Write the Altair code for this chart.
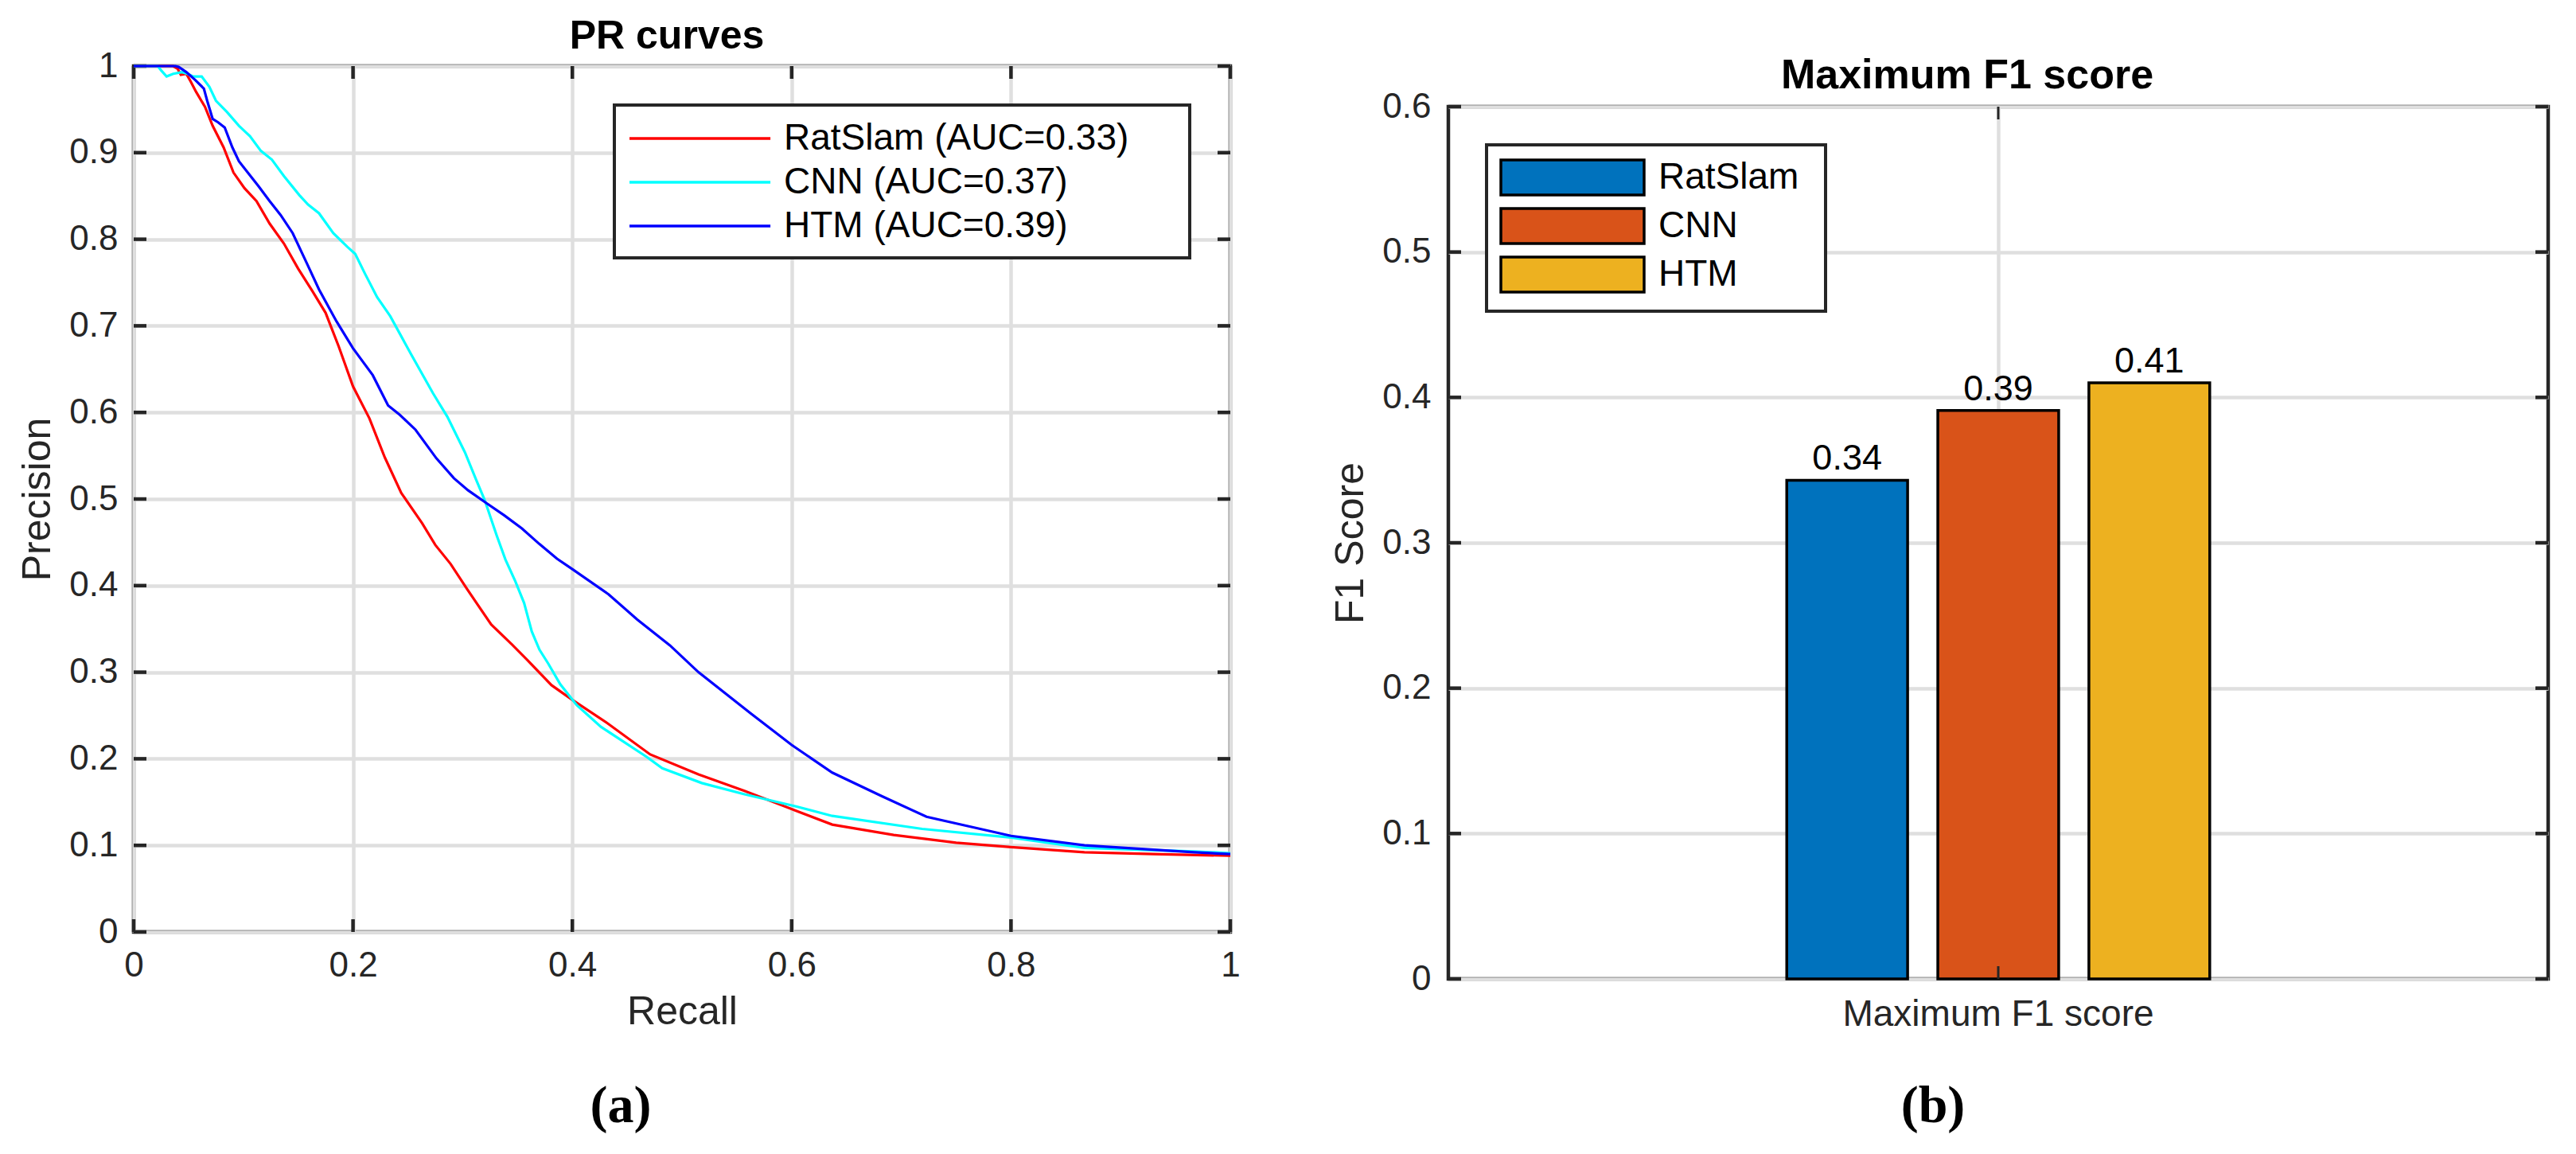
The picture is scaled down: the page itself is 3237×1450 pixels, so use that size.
import altair as alt
import pandas as pd

# ---------------- data ----------------
METHODS = ["RatSlam", "CNN", "HTM"]
AUC = [0.33, 0.37, 0.39]
LINE_COLORS = ["#ff0000", "#00ffff", "#0000ff"]
BAR_COLORS = ["#0072bd", "#d95319", "#edb120"]

RATSLAM_RECALL = [0.0, 0.036, 0.040, 0.043, 0.048, 0.052, 0.057, 0.065, 0.072, 0.082,
                  0.091, 0.101, 0.112, 0.124, 0.137, 0.150, 0.163, 0.175, 0.187, 0.200,
                  0.215, 0.229, 0.244, 0.263, 0.275, 0.289, 0.304, 0.326, 0.345, 0.359,
                  0.381, 0.400, 0.432, 0.471, 0.515, 0.557, 0.604, 0.637, 0.693, 0.750,
                  0.800, 0.867, 0.930, 1.000]
RATSLAM_PREC = [1.0, 1.0, 0.997, 0.990, 0.991, 0.982, 0.970, 0.953, 0.931, 0.906,
                0.877, 0.859, 0.844, 0.818, 0.795, 0.766, 0.740, 0.715, 0.676, 0.630,
                0.593, 0.548, 0.507, 0.472, 0.447, 0.425, 0.396, 0.355, 0.332, 0.314,
                0.285, 0.268, 0.241, 0.205, 0.182, 0.163, 0.140, 0.124, 0.112, 0.103,
                0.098, 0.092, 0.090, 0.088]

CNN_RECALL = [0.0, 0.022, 0.025, 0.030, 0.036, 0.044, 0.049, 0.054, 0.062, 0.069,
              0.075, 0.085, 0.096, 0.106, 0.116, 0.126, 0.137, 0.151, 0.159, 0.169,
              0.182, 0.195, 0.202, 0.211, 0.222, 0.234, 0.253, 0.273, 0.286, 0.302,
              0.312, 0.320, 0.331, 0.339, 0.348, 0.356, 0.363, 0.370, 0.378, 0.389,
              0.404, 0.426, 0.468, 0.482, 0.518, 0.557, 0.604, 0.637, 0.719, 0.800,
              0.867, 0.967, 1.000]
CNN_PREC = [1.0, 1.0, 0.995, 0.988, 0.991, 0.993, 0.991, 0.988, 0.988, 0.976,
            0.960, 0.947, 0.931, 0.919, 0.902, 0.892, 0.873, 0.851, 0.840, 0.830,
            0.807, 0.791, 0.783, 0.760, 0.733, 0.711, 0.667, 0.622, 0.595, 0.554,
            0.523, 0.499, 0.458, 0.430, 0.405, 0.380, 0.347, 0.326, 0.310, 0.286,
            0.262, 0.237, 0.202, 0.189, 0.172, 0.159, 0.145, 0.134, 0.119, 0.109,
            0.097, 0.093, 0.091]

HTM_RECALL = [0.0, 0.038, 0.041, 0.048, 0.056, 0.064, 0.067, 0.072, 0.077, 0.083,
              0.090, 0.096, 0.104, 0.114, 0.124, 0.134, 0.145, 0.158, 0.169, 0.185,
              0.200, 0.218, 0.232, 0.242, 0.257, 0.276, 0.292, 0.305, 0.322, 0.338,
              0.354, 0.370, 0.386, 0.400, 0.433, 0.459, 0.489, 0.515, 0.563, 0.600,
              0.637, 0.682, 0.723, 0.800, 0.867, 0.967, 1.000]
HTM_PREC = [1.0, 1.0, 0.999, 0.993, 0.984, 0.974, 0.960, 0.939, 0.935, 0.929,
            0.906, 0.890, 0.877, 0.861, 0.844, 0.828, 0.807, 0.772, 0.742, 0.705,
            0.674, 0.643, 0.608, 0.598, 0.580, 0.547, 0.524, 0.510, 0.495, 0.481,
            0.466, 0.448, 0.431, 0.419, 0.390, 0.361, 0.331, 0.300, 0.252, 0.216,
            0.184, 0.157, 0.133, 0.111, 0.100, 0.092, 0.090]

F1_CATEGORY = "Maximum F1 score"
F1_VALUES = [0.343, 0.391, 0.410]

XTICKS = [0, 0.2, 0.4, 0.6, 0.8, 1]
YTICKS = [0, 0.1, 0.2, 0.3, 0.4, 0.5, 0.6, 0.7, 0.8, 0.9, 1]
F1TICKS = [0, 0.1, 0.2, 0.3, 0.4, 0.5, 0.6]

TITLE_A = "PR curves"
TITLE_B = "Maximum F1 score"
CAPTION_A = "(a)"
CAPTION_B = "(b)"

# ---------------- style ----------------
FONT = "Liberation Sans"
SERIF = "Liberation Serif"
DARK = "#262626"
GRID = "#dfdfdf"
W1, H1 = 1378, 1088
W2, H2 = 1382, 1096
TICK = 16
NBSP = "\u00a0"

labels = [f"{m} (AUC={a:.2f})" for m, a in zip(METHODS, AUC)]
rows = []
for lab, rec, prec in zip(labels, [RATSLAM_RECALL, CNN_RECALL, HTM_RECALL],
                          [RATSLAM_PREC, CNN_PREC, HTM_PREC]):
    for i, (r, p) in enumerate(zip(rec, prec)):
        rows.append({"series": lab, "recall": r, "precision": p, "i": i})
pr = pd.DataFrame(rows)


def text_layer(txt, x, y, font, size, weight="bold", baseline="alphabetic"):
    return alt.Chart(pd.DataFrame({"t": [txt]})).mark_text(
        font=font, fontSize=size, fontWeight=weight, color="black", align="center",
        baseline=baseline).encode(text="t:N", x=alt.value(x), y=alt.value(y))


def spacer(h, w):
    return alt.Chart(pd.DataFrame({"a": [0]})).mark_point(opacity=0, size=1).encode(
        x=alt.value(0), y=alt.value(0)).properties(
        width=w, height=h, view=alt.ViewBackground(stroke="transparent"))


def build(legend_sw):
    rule = dict(color=DARK, strokeWidth=4.5)
    # ---------- left panel ----------
    x1 = alt.Scale(domain=[0, 1], nice=False)
    y1 = alt.Scale(domain=[0, 1], nice=False)
    ax_x1 = alt.Axis(values=XTICKS, format="~g", title="Recall", labelFlush=False,
                     tickSize=0, domain=False, grid=True, labelPadding=20, titlePadding=11)
    ax_y1 = alt.Axis(values=YTICKS, format="~g", title="Precision", labelFlush=False,
                     tickSize=0, domain=False, grid=True, labelPadding=20, titlePadding=14)

    lines = alt.Chart(pr).mark_line(strokeWidth=3.2).encode(
        x=alt.X("recall:Q", scale=x1, axis=ax_x1),
        y=alt.Y("precision:Q", scale=y1, axis=ax_y1),
        color=alt.Color("series:N", sort=labels,
                        scale=alt.Scale(domain=labels, range=LINE_COLORS),
                        legend=alt.Legend(title=NBSP, titleOrient="right", titlePadding=60,
                                          titleFontSize=10, titleOpacity=0,
                                          orient="none", legendX=604, legendY=49,
                                          symbolType="M-1,0H6.70", symbolSize=2116,
                                          symbolStrokeWidth=3.5, labelFont=FONT,
                                          labelFontSize=46, labelColor="black",
                                          labelLimit=3000, labelOffset=146, rowPadding=7,
                                          padding=17, strokeColor=DARK, fillColor="white")),
        order="i:Q",
    )
    xt = pd.DataFrame({"v": XTICKS})
    yt = pd.DataFrame({"v": YTICKS})
    xb = alt.Chart(xt).mark_rule(**rule).encode(
        x=alt.X("v:Q", scale=x1, axis=ax_x1), y=alt.value(H1), y2=alt.value(H1 - TICK))
    xtp = alt.Chart(xt).mark_rule(**rule).encode(
        x=alt.X("v:Q", scale=x1, axis=ax_x1), y=alt.value(0), y2=alt.value(TICK))
    yl = alt.Chart(yt).mark_rule(**rule).encode(
        y=alt.Y("v:Q", scale=y1, axis=ax_y1), x=alt.value(0), x2=alt.value(TICK))
    yr = alt.Chart(yt).mark_rule(**rule).encode(
        y=alt.Y("v:Q", scale=y1, axis=ax_y1), x=alt.value(W1), x2=alt.value(W1 - TICK))

    ttl_a = text_layer(TITLE_A, 670, -22, FONT, 50)
    cap_a = text_layer(CAPTION_A, 612, 1327, SERIF, 66)

    left = alt.layer(xb, xtp, yl, yr, lines, ttl_a, cap_a).properties(width=W1, height=H1)

    # ---------- right panel ----------
    bars_df = pd.DataFrame({"cat": [F1_CATEGORY] * len(METHODS), "method": METHODS,
                            "f1": F1_VALUES})
    x2 = alt.Scale(paddingInner=0, paddingOuter=0.8)
    ax_x2 = alt.Axis(title=None, labelAngle=0, tickSize=0, domain=False, grid=True,
                     bandPosition=0.5, labelPadding=22, labelFontSize=46, labelLimit=2000)
    y2 = alt.Scale(domain=[0, 0.6], nice=False)
    ax_y2 = alt.Axis(values=F1TICKS, format="~g", title="F1 Score", labelFlush=False,
                     tickSize=0, domain=False, grid=True, labelPadding=22, titlePadding=14)
    xo = alt.XOffset("method:N", sort=METHODS,
                     scale=alt.Scale(paddingInner=0.2, paddingOuter=0))

    bars = alt.Chart(bars_df).mark_bar(stroke="black", strokeWidth=3.5).encode(
        x=alt.X("cat:N", scale=x2, axis=ax_x2),
        xOffset=xo,
        y=alt.Y("f1:Q", scale=y2, axis=ax_y2),
        color=alt.Color("method:N", sort=METHODS,
                        scale=alt.Scale(domain=METHODS, range=BAR_COLORS),
                        legend=alt.Legend(title=NBSP, titleOrient="right", titlePadding=18,
                                          titleFontSize=10, titleOpacity=0,
                                          orient="none", legendX=48, legendY=48,
                                          symbolType="M-1,-0.957H6.826V0.957H-1Z",
                                          symbolSize=2116, symbolStrokeColor="black",
                                          symbolStrokeWidth=3.5, symbolOpacity=1,
                                          labelFont=FONT, labelFontSize=46,
                                          labelColor="black", labelLimit=3000,
                                          labelOffset=150, rowPadding=1, padding=16,
                                          strokeColor=DARK, fillColor="white")),
    )
    texts = alt.Chart(bars_df).mark_text(baseline="alphabetic", dy=-13, font=FONT,
                                         fontSize=45, color="black").encode(
        x=alt.X("cat:N", scale=x2, axis=ax_x2),
        xOffset=xo,
        y=alt.Y("f1:Q", scale=y2, axis=ax_y2),
        text=alt.Text("f1:Q", format=".2f"),
    )
    ct = pd.DataFrame({"cat": [F1_CATEGORY]})
    ft = pd.DataFrame({"f1": F1TICKS})
    cb = alt.Chart(ct).mark_rule(color=DARK, strokeWidth=3).encode(
        x=alt.X("cat:N", scale=x2, axis=ax_x2), y=alt.value(H2), y2=alt.value(H2 - TICK))
    ctp = alt.Chart(ct).mark_rule(color=DARK, strokeWidth=3).encode(
        x=alt.X("cat:N", scale=x2, axis=ax_x2), y=alt.value(0), y2=alt.value(TICK))
    fl = alt.Chart(ft).mark_rule(**rule).encode(
        y=alt.Y("f1:Q", scale=y2, axis=ax_y2), x=alt.value(0), x2=alt.value(TICK))
    fr = alt.Chart(ft).mark_rule(**rule).encode(
        y=alt.Y("f1:Q", scale=y2, axis=ax_y2), x=alt.value(W2), x2=alt.value(W2 - TICK))

    ttl_b = text_layer(TITLE_B, 652, -23, FONT, 52)
    cap_b = text_layer(CAPTION_B, 609, 1276, SERIF, 66)

    right = alt.layer(bars, texts, cb, ctp, fl, fr, ttl_b, cap_b).properties(
        width=W2, height=H2)

    left_wrap = alt.vconcat(spacer(1, 10), left, spacing=0).resolve_scale(color="independent")
    right_wrap = alt.vconcat(spacer(49, 10), right, spacing=0).resolve_scale(color="independent")

    chart = alt.hconcat(left_wrap, right_wrap, spacing=109,
                        padding={"left": 12, "top": 3, "right": 5, "bottom": 0}) \
        .resolve_scale(color="independent") \
        .resolve_legend(color="independent") \
        .configure(background="white") \
        .configure_view(stroke=DARK, strokeWidth=4.5) \
        .configure_axis(labelFont=FONT, labelFontSize=44, labelColor=DARK,
                        titleFont=FONT, titleFontSize=50, titleFontWeight="normal",
                        titleColor=DARK, gridColor=GRID, gridWidth=4.5)
    if legend_sw:
        chart = chart.configure_legend(strokeWidth=4)
    return chart


try:
    chart = build(True)
    chart.to_dict()
except Exception:
    chart = build(False)

chart.save("out.html", embed_options={"renderer": "svg", "actions": False})
